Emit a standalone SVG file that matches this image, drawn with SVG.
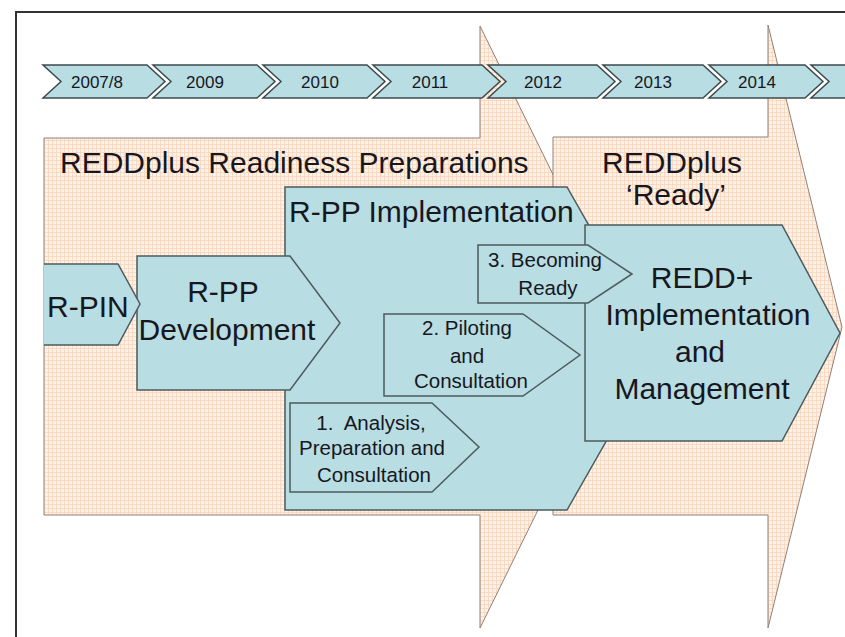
<svg xmlns="http://www.w3.org/2000/svg" width="845" height="637" viewBox="0 0 845 637">
<defs>
<pattern id="grid" width="4" height="4" patternUnits="userSpaceOnUse">
<rect width="4" height="4" fill="#fef1e5"/>
<path d="M0 0.5H4M0.5 0V4" stroke="#f7d4bc" stroke-width="0.8"/>
</pattern>
<style>
.peach{fill:url(#grid);stroke:#8e817a;stroke-width:1}
.teal{fill:#b8dde2;stroke:#4c5b5e;stroke-width:1.5}
.chev{fill:#b8dde2;stroke:#3e4a4d;stroke-width:1.5}
text{font-family:"Liberation Sans",Arial,sans-serif;fill:#17171f}
.yr{font-size:17px;text-anchor:middle}
.big{font-size:30px}
.mid{font-size:30px;text-anchor:middle}
.sm{font-size:20.5px;text-anchor:middle}
</style>
</defs>
<rect x="16" y="12" width="900" height="700" fill="#fff" stroke="#333" stroke-width="2"/>

<g id="readiness-arrow">
<path class="peach" d="M44 138H480V26L628 327L480 628V515H44Z"/>
</g>
<g id="ready-arrow">
<path class="peach" d="M553 137H768V25L842 327L768 628V515H553Z"/>
</g>

<g id="timeline">
<path class="chev" d="M43 65H147L165 81.5L147 98H43L61 81.5Z"/>
<path class="chev" d="M153 65H257L275 81.5L257 98H153L171 81.5Z"/>
<path class="chev" d="M263 65H367L385 81.5L367 98H263L281 81.5Z"/>
<path class="chev" d="M373 65H482L500 81.5L482 98H373L391 81.5Z"/>
<path class="chev" d="M488 65H597L615 81.5L597 98H488L506 81.5Z"/>
<path class="chev" d="M603 65H703L721 81.5L703 98H603L621 81.5Z"/>
<path class="chev" d="M709 65H805L823 81.5L805 98H709L727 81.5Z"/>
<path class="chev" d="M811 65H900V98H811L829 81.5Z"/>
<text class="yr" x="97" y="88">2007/8</text>
<text class="yr" x="205" y="88">2009</text>
<text class="yr" x="320" y="88">2010</text>
<text class="yr" x="430" y="88">2011</text>
<text class="yr" x="543" y="88">2012</text>
<text class="yr" x="653" y="88">2013</text>
<text class="yr" x="757" y="88">2014</text>
</g>

<g id="labels-phases">
<text class="big" x="60" y="173">REDDplus Readiness Preparations</text>
<text class="mid" x="672" y="173">REDDplus</text>
<text class="mid" x="676" y="205">‘Ready’</text>
</g>

<g id="rpp-implementation">
<path class="teal" d="M285 187H567L659 348.5L567 510H285Z"/>
<text class="big" x="289" y="222">R-PP Implementation</text>
</g>

<g id="redd-implementation">
<path class="teal" d="M585 225H782L840 333L782 441H585Z"/>
<text class="mid" x="702" y="288">REDD+</text>
<text class="mid" x="708" y="325">Implementation</text>
<text class="mid" x="700" y="362">and</text>
<text class="mid" x="702" y="399">Management</text>
</g>

<g id="rpp-development">
<path class="teal" d="M137 256H290L340 323L290 390H137Z"/>
<text class="mid" x="223" y="302">R-PP</text>
<text class="mid" x="227" y="340">Development</text>
</g>

<g id="rpin">
<path class="teal" d="M44 264H118L140 304L118 345H44" stroke="#6f8589"/>
<text class="big" x="47" y="317">R-PIN</text>
</g>

<g id="step3">
<path class="teal" d="M478 245H588L632 274L588 303H478Z"/>
<text class="sm" x="545" y="267">3. Becoming</text>
<text class="sm" x="548" y="295">Ready</text>
</g>

<g id="step2">
<path class="teal" d="M384 314H523L580 355L523 396H384Z"/>
<text class="sm" x="467" y="335">2. Piloting</text>
<text class="sm" x="467" y="363">and</text>
<text class="sm" x="471" y="388">Consultation</text>
</g>

<g id="step1">
<path class="teal" d="M290 403H432L479 447L432 492H290Z"/>
<text class="sm" x="371" y="430" xml:space="preserve">1.  Analysis,</text>
<text class="sm" x="372" y="455">Preparation and</text>
<text class="sm" x="374" y="482">Consultation</text>
</g>

<g id="connectors"></g>
</svg>
